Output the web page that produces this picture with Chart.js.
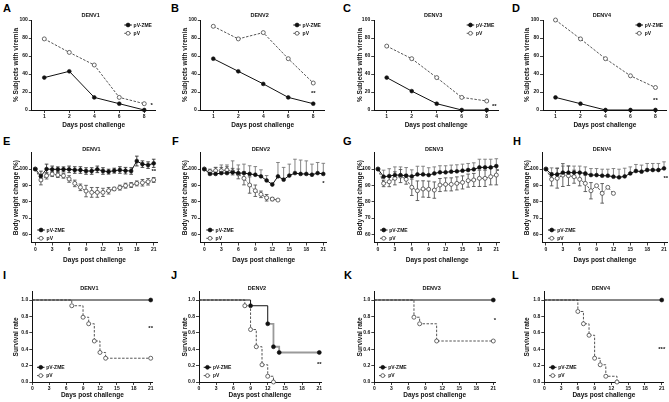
<!DOCTYPE html>
<html lang="en">
<head>
<meta charset="UTF-8">
<title>pV-ZME challenge outcomes</title>
<script src="https://cdn.jsdelivr.net/npm/chart.js@4.4.1/dist/chart.umd.min.js"></script>
<style>
  body { margin: 0; background: #fff; }
  #figure { position: relative; width: 669px; height: 402px; overflow: hidden; background: #fff; }
  #figure canvas { position: absolute; }
  .letter { position: absolute; font: bold 11px "Liberation Sans", Arial, sans-serif; line-height: 12px; color: #000; }
</style>
</head>
<body>
<div id="figure"></div>
<script>
// ---------- data ----------
const serotypes = ['DENV1', 'DENV2', 'DENV3', 'DENV4'];
const groups = ['pV-ZME', 'pV'];

// A-D: % subjects with viremia; sampling days are plotted as evenly spaced categories
const viremiaDays = ['1', '2', '4', '6', '8'];
const viremiaTicks = [0, 20, 40, 60, 80, 100];
const viremiaZME1 = [36, 43, 14, 7, 0];
const viremiaPV1 = [79, 64, 50, 14, 7];
const viremiaZME2 = [57, 43, 29, 14, 7];
const viremiaPV2 = [93, 79, 86, 57, 30];
const viremiaZME3 = [36, 21, 7, 0, 0];
const viremiaPV3 = [71, 57, 36, 14, 10];
const viremiaZME4 = [14, 7, 0, 0, 0];
const viremiaPV4 = [100, 79, 57, 38, 25];
const viremiaSig = ['*', '**', '**', '**'];
const viremiaSigX = [4.3, 4, 4.3, 4];
const viremiaSigY = [5, 18, 4, 11];

// E-H: body weight change (%), mean and error
const weightDays = [0, 1, 2, 3, 4, 5, 6, 7, 8, 9, 10, 11, 12, 13, 14, 15, 16, 17, 18, 19, 20, 21];
const weightTicksX = [0, 3, 6, 9, 12, 15, 18, 21];
const weightTicksY = [60, 70, 80, 90, 100];
const weightZME1 = [100, 95.7, 100, 99.8, 99.8, 99.8, 99.8, 99.4, 99.4, 98.8, 98.8, 99.8, 98.8, 98.4, 99, 99.4, 99, 98.8, 104.9, 103, 102.4, 103.5];
const weightZME1Err = [0.5, 3, 3, 2, 1.5, 1.5, 2, 2, 2, 2, 2, 2, 2, 1.5, 1.5, 2, 2, 2, 3, 2, 2, 2.5];
const weightPV1 = [100, 93.3, 95.9, 96.9, 96.3, 95.9, 93.9, 91.2, 88.8, 86.5, 85.7, 85.7, 85.7, 86.7, 87.8, 88.6, 89.8, 90.2, 91.2, 91.6, 92.2, 93.3];
const weightPV1Err = [0.5, 3, 2, 1.5, 1.5, 1.5, 2, 2, 2, 3.5, 3, 3, 2.5, 2, 1, 1.5, 1.5, 1.5, 1.5, 2, 2, 1.5];
const weightZME2 = [100, 97, 97, 97.5, 97.5, 98, 97.5, 97.5, 97, 96.5, 95.5, 93, 90.5, 95.5, 93.5, 96, 97.5, 97, 97, 96.5, 97.5, 97];
const weightZME2Err = [0, 2, 4, 5, 5, 7, 5, 5.5, 5, 5, 4, 3, 1, 8.5, 7.5, 7, 8.5, 8.5, 8, 6.5, 6.5, 6.5];
const weightPV2 = [100, 98.4, 99, 99, 99.4, 98.4, 97, 94.3, 90.2, 86.7, 84.5, 82.4, 81.6, 81];
const weightPV2Err = [0, 1.5, 2, 2, 2, 2, 3, 4, 5, 3.5, 2, 2, 1, 0];
const weightZME3 = [100, 95.3, 95.7, 96.3, 96.3, 95.9, 95.5, 96.7, 96.7, 96.3, 97.3, 98, 98, 98.4, 98.6, 99, 99.4, 99.8, 101, 101, 101, 101.8];
const weightZME3Err = [0, 4, 4.5, 5, 5, 5, 4, 5, 5, 4.5, 4, 4, 4, 4, 4, 4, 4, 4, 5, 5, 5, 4.5];
const weightPV3 = [100, 91.2, 92.2, 94.3, 95.7, 93.7, 88.8, 86.7, 87.8, 87.6, 87.1, 90.2, 90.6, 90.6, 91.2, 91.8, 92.9, 93.3, 94.3, 94.3, 95.3, 96.3];
const weightPV3Err = [0, 2, 3, 4, 4, 3, 5, 6, 5, 5, 5, 4, 4, 4, 4, 4, 4, 4, 5, 5, 5, 6];
const weightZME4 = [100, 96.7, 96.7, 97.8, 97.8, 97.8, 97.8, 97.3, 96.3, 96.3, 95.9, 95.9, 95.3, 94.9, 95.5, 97.3, 98.8, 98.4, 99.4, 99.4, 99.4, 100.4];
const weightZME4Err = [0, 4, 4, 4, 4, 4, 4, 4, 4, 4, 4, 4, 5, 5, 5, 4, 4, 4, 4, 4, 4, 4];
const weightPV4 = [100, 93.7, 94.3, 96.3, 95.9, 95.3, 93.7, 91.2, 86.7, 89.8, 85.1, 88.8, 85.1];
const weightPV4Err = [0, 4, 6, 7, 6, 4, 4, 5, 5, 0, 6, 0, 0];
const weightSig = ['**', '*', '*', '**'];
const weightSigX = [21, 21, 21.3, 21.3];
const weightSigY = [98.5, 91, 98.5, 94];

// I-L: survival (Kaplan-Meier steps)
const survivalTicksX = [0, 3, 6, 9, 12, 15, 18, 21];
const survivalTicksY = [0, 0.2, 0.4, 0.6, 0.8, 1.0];
const survZME1Days = [0, 21];
const survZME1 = [1, 1];
const survPV1Days = [0, 7, 9, 10, 11, 12, 13, 21];
const survPV1 = [1, 0.93, 0.79, 0.71, 0.5, 0.36, 0.29, 0.29];
const survZME2Days = [0, 9, 12, 13, 14, 21];
const survZME2 = [1, 0.93, 0.71, 0.43, 0.36, 0.36];
const survPV2Days = [0, 8, 9, 10, 11, 12, 13];
const survPV2 = [1, 0.93, 0.64, 0.43, 0.21, 0.07, 0];
const survZME3Days = [0, 21];
const survZME3 = [1, 1];
const survPV3Days = [0, 7, 8, 11, 21];
const survPV3 = [1, 0.79, 0.71, 0.5, 0.5];
const survZME4Days = [0, 21];
const survZME4 = [1, 1];
const survPV4Days = [0, 6, 7, 8, 9, 10, 11, 13];
const survPV4 = [1, 0.86, 0.71, 0.57, 0.29, 0.21, 0.07, 0];
const survivalSig = ['**', '**', '*', '***'];
const survivalSigX = [21, 21, 21.3, 21];
const survivalSigY = [0.65, 0.21, 0.75, 0.4];

// ---------- layout ----------
const FONT = '"Liberation Sans", Arial, sans-serif';
Chart.defaults.font.family = FONT;
Chart.defaults.font.weight = 'bold';
Chart.defaults.color = '#111';

const rows = [
  { top: 0, height: 132, plotTop: 20, plotBottom: 110, xTitleY: 125.7, titleDy: -5, legendDx: 92.5, legendDy: 5 },
  { top: 134, height: 132, plotTop: 152.7, plotBottom: 242.5, xTitleY: 260, titleDy: -3.3, legendDx: 5.4, legendDy: 77.3 },
  { top: 268, height: 134, plotTop: 291.8, plotBottom: 382, xTitleY: 395.7, titleDy: -3.8, legendDx: 4.7, legendDy: 75.5 }
];
const yTitleX = [15.5, 185, 360, 527];
const plotEdges = [
  [[31.8, 155.5], [200.8, 324.5], [374.2, 498], [543, 666.7]],
  [[31.9, 157.1], [200.9, 326.7], [374.6, 499.7], [542.6, 667.4]],
  [[32.3, 152.4], [199, 321], [374.3, 495], [544.3, 663.4]]
];
const letters = [
  ['A', 3, 2], ['B', 171, 2], ['C', 343, 2], ['D', 512, 2],
  ['E', 3, 135], ['F', 172, 135], ['G', 343, 135], ['H', 513, 135],
  ['I', 3, 269], ['J', 171, 269], ['K', 344, 269], ['L', 512, 269]
];

const fig = document.getElementById('figure');
letters.forEach(([t, x, y]) => {
  const d = document.createElement('div');
  d.className = 'letter';
  d.textContent = t;
  d.style.left = x + 'px';
  d.style.top = y + 'px';
  fig.appendChild(d);
});

// error bars drawn from dataset.errors through the y scale
const errorBars = {
  id: 'errorBars',
  beforeDatasetsDraw(chart) {
    const { ctx } = chart;
    const yScale = chart.scales.y;
    chart.data.datasets.forEach((ds, i) => {
      if (!ds.errors) return;
      const meta = chart.getDatasetMeta(i);
      ctx.save();
      ctx.strokeStyle = ds.errorColor;
      ctx.lineWidth = 0.9;
      meta.data.forEach((pt, j) => {
        const e = ds.errors[j];
        if (!e) return;
        const v = ds.data[j].y;
        const hi = ds.errorSide === 'down' ? pt.y : yScale.getPixelForValue(v + e);
        const lo = ds.errorSide === 'up' ? pt.y : yScale.getPixelForValue(v - e);
        ctx.beginPath();
        ctx.moveTo(pt.x, hi);
        ctx.lineTo(pt.x, lo);
        if (ds.errorSide !== 'down') { ctx.moveTo(pt.x - 1.8, hi); ctx.lineTo(pt.x + 1.8, hi); }
        if (ds.errorSide !== 'up') { ctx.moveTo(pt.x - 1.8, lo); ctx.lineTo(pt.x + 1.8, lo); }
        ctx.stroke();
      });
      ctx.restore();
    });
  }
};

// panel title, significance stars and the small in-plot legend
const panelText = {
  id: 'panelText',
  afterDraw(chart, args, o) {
    const { ctx, chartArea: a, scales } = chart;
    ctx.save();
    ctx.fillStyle = '#111';
    ctx.textAlign = 'center';
    ctx.textBaseline = 'middle';
    ctx.font = 'bold 5.5px ' + FONT;
    ctx.fillText(o.title, (a.left + a.right) / 2 - 3, a.top + o.titleDy);
    ctx.font = 'bold 6px ' + FONT;
    ctx.fillText(o.sig, scales.x.getPixelForValue(o.sigX), scales.y.getPixelForValue(o.sigY));
    ctx.textAlign = 'left';
    ctx.font = 'bold 5px ' + FONT;
    chart.data.datasets.forEach((ds, i) => {
      const x = a.left + o.legendDx;
      const y = a.top + o.legendDy + i * 8.3;
      ctx.strokeStyle = ds.borderColor;
      ctx.lineWidth = 1;
      ctx.setLineDash(ds.borderDash || []);
      ctx.beginPath();
      ctx.moveTo(x, y);
      ctx.lineTo(x + 7.5, y);
      ctx.stroke();
      ctx.setLineDash([]);
      ctx.beginPath();
      ctx.arc(x + 3.75, y, 1.9, 0, Math.PI * 2);
      ctx.fillStyle = ds.pointBackgroundColor;
      ctx.fill();
      ctx.strokeStyle = ds.pointBorderColor;
      ctx.lineWidth = 0.8;
      ctx.stroke();
      ctx.fillStyle = '#111';
      ctx.fillText(ds.label, x + 9.3, y + 0.3);
    });
    ctx.restore();
  }
};

function zmeSet(data, extra) {
  return Object.assign({
    label: groups[0], data, borderColor: '#111', borderWidth: 1,
    pointRadius: 1.9, pointBackgroundColor: '#111', pointBorderColor: '#111', pointBorderWidth: 0.6,
    clip: false
  }, extra);
}
function pvSet(data, extra) {
  return Object.assign({
    label: groups[1], data, borderColor: '#555', borderWidth: 1, borderDash: [2.5, 1.5],
    pointRadius: 2, pointBackgroundColor: '#fff', pointBorderColor: '#444', pointBorderWidth: 0.8,
    clip: false
  }, extra);
}
const toPoints = (xs, ys) => ys.map((y, i) => ({ x: xs[i], y }));
const byIndex = ys => ys.map((y, i) => ({ x: i, y }));

function axis(min, max, ticks, label, title, fit) {
  return {
    type: 'linear', min, max,
    afterBuildTicks: s => { s.ticks = ticks.map(v => ({ value: v })); },
    afterFit: fit,
    ticks: { callback: label, font: { size: 5, weight: 'bold' }, color: '#111', padding: 1, autoSkip: false, maxRotation: 0 },
    grid: { drawOnChartArea: false, tickLength: 3, tickColor: '#111', tickWidth: 0.8 },
    border: { color: '#111', width: 1 },
    title: { display: true, text: title, font: { size: 6.5, weight: 'bold' }, color: '#111', padding: 0 }
  };
}

function makePanel(r, c, datasets, xs, ys, text) {
  const row = rows[r];
  const [left, right] = plotEdges[r][c];
  const canvasLeft = Math.round(yTitleX[c] - 3.9);
  const width = Math.ceil(right + 12 - canvasLeft);
  const height = row.height;
  const canvas = document.createElement('canvas');
  canvas.width = width;
  canvas.height = height;
  canvas.style.left = canvasLeft + 'px';
  canvas.style.top = row.top + 'px';
  canvas.style.width = width + 'px';
  canvas.style.height = height + 'px';
  fig.appendChild(canvas);
  const yW = left - canvasLeft;
  const xH = row.xTitleY + 3.9 - row.plotBottom;
  new Chart(canvas, {
    type: 'line',
    data: { datasets },
    options: {
      responsive: false,
      animation: false,
      events: [],
      layout: {
        padding: {
          left: 0,
          top: row.plotTop - row.top,
          right: canvasLeft + width - right,
          bottom: height - (row.plotBottom + xH - row.top)
        }
      },
      plugins: {
        legend: { display: false },
        tooltip: { enabled: false },
        panelText: Object.assign({ titleDy: row.titleDy, legendDx: row.legendDx, legendDy: row.legendDy }, text)
      },
      scales: {
        x: axis(xs.min, xs.max, xs.ticks, xs.label, 'Days post challenge', s => { s.height = xH; }),
        y: axis(ys.min, ys.max, ys.ticks, ys.label, ys.title, s => { s.width = yW; })
      }
    },
    plugins: [errorBars, panelText]
  });
}

// ---------- A-D ----------
const viremiaZME = [viremiaZME1, viremiaZME2, viremiaZME3, viremiaZME4];
const viremiaPV = [viremiaPV1, viremiaPV2, viremiaPV3, viremiaPV4];
for (let c = 0; c < 4; c++) {
  makePanel(0, c,
    [zmeSet(byIndex(viremiaZME[c])), pvSet(byIndex(viremiaPV[c]))],
    { min: -0.5, max: 4.45, ticks: [0, 1, 2, 3, 4], label: v => viremiaDays[v] },
    { min: 0, max: 100, ticks: viremiaTicks, label: v => v, title: '% Subjects with viremia' },
    { title: serotypes[c], sig: viremiaSig[c], sigX: viremiaSigX[c], sigY: viremiaSigY[c] });
}

// ---------- E-H ----------
const weightZME = [weightZME1, weightZME2, weightZME3, weightZME4];
const weightZMEErr = [weightZME1Err, weightZME2Err, weightZME3Err, weightZME4Err];
const weightPV = [weightPV1, weightPV2, weightPV3, weightPV4];
const weightPVErr = [weightPV1Err, weightPV2Err, weightPV3Err, weightPV4Err];
for (let c = 0; c < 4; c++) {
  makePanel(1, c,
    [
      zmeSet(toPoints(weightDays, weightZME[c]), {
        errors: weightZMEErr[c], errorSide: c === 0 ? 'both' : 'up', errorColor: c === 0 ? '#333' : '#777'
      }),
      pvSet(toPoints(weightDays, weightPV[c]), { errors: weightPVErr[c], errorSide: 'both', errorColor: '#555' })
    ],
    { min: -0.6, max: 21.6, ticks: weightTicksX, label: v => v },
    { min: 55, max: 110, ticks: weightTicksY, label: v => v, title: 'Body weight change (%)' },
    { title: serotypes[c], sig: weightSig[c], sigX: weightSigX[c], sigY: weightSigY[c] });
}

// ---------- I-L ----------
const survZMEDays = [survZME1Days, survZME2Days, survZME3Days, survZME4Days];
const survZME = [survZME1, survZME2, survZME3, survZME4];
const survPVDays = [survPV1Days, survPV2Days, survPV3Days, survPV4Days];
const survPV = [survPV1, survPV2, survPV3, survPV4];
const hideFirst = ctx => (ctx.dataIndex === 0 ? 0 : 2);
for (let c = 0; c < 4; c++) {
  const zmeExtra = { stepped: true, pointRadius: hideFirst };
  if (c === 1) {
    zmeExtra.segment = {
      borderColor: s => (s.p0DataIndex >= 2 ? '#9a9a9a' : undefined),
      borderWidth: s => (s.p0DataIndex >= 2 ? 1.8 : undefined)
    };
  }
  makePanel(2, c,
    [
      zmeSet(toPoints(survZMEDays[c], survZME[c]), zmeExtra),
      pvSet(toPoints(survPVDays[c], survPV[c]), { stepped: true, pointRadius: hideFirst })
    ],
    { min: 0, max: 21.3, ticks: survivalTicksX, label: v => v },
    { min: 0, max: 1.1, ticks: survivalTicksY, label: v => v.toFixed(1), title: 'Survival rate' },
    { title: serotypes[c], sig: survivalSig[c], sigX: survivalSigX[c], sigY: survivalSigY[c] });
}
</script>
</body>
</html>
